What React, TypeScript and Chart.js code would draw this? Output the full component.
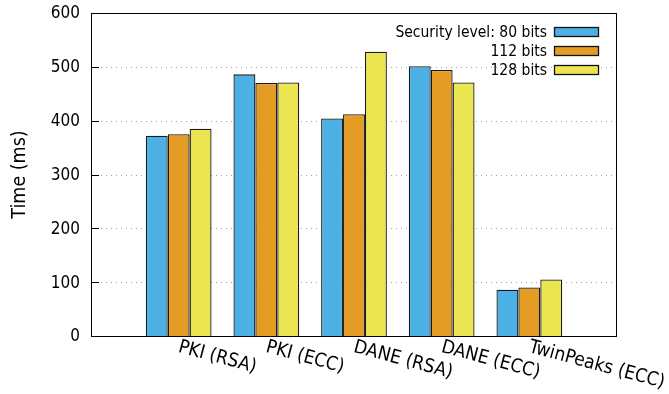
import React, { useEffect, useRef } from "react";
import { Chart, registerables } from "chart.js";

Chart.register(...registerables);

// Categories, padded with an empty slot on each side so the groups sit at 0..4 on a -1..5 range
const categories = ["", "PKI (RSA)", "PKI (ECC)", "DANE (RSA)", "DANE (ECC)", "TwinPeaks (ECC)", ""];
const seriesLabels = ["Security level: 80 bits", "112 bits", "128 bits"];
const bits80 = [null, 372, 486, 404, 501, 86, null];
const bits112 = [null, 375, 470, 412, 494, 90, null];
const bits128 = [null, 385, 471, 528, 471, 105, null];
const seriesColors = ["#4cb0e4", "#e49c24", "#ece552"];
const yTicks = [0, 100, 200, 300, 400, 500, 600];
const yTitle = "Time (ms)";

const FONT = "'DejaVu Sans Condensed', 'DejaVu Sans', sans-serif";

// Dotted gridlines plus short inward ticks on the left axis, drawn under the bars
const gridPlugin = {
  id: "dottedGrid",
  beforeDatasetsDraw(chart: any) {
    const { ctx, chartArea, scales } = chart;
    const y = scales.y;
    ctx.save();
    yTicks.forEach((v) => {
      const py = Math.round(y.getPixelForValue(v)) + 0.5;
      if (v > 0 && v < 600) {
        ctx.strokeStyle = "#a0a0a0";
        ctx.lineWidth = 1;
        ctx.setLineDash([1, 4]);
        ctx.beginPath();
        ctx.moveTo(chartArea.left + 10, py);
        ctx.lineTo(chartArea.right - 4, py);
        ctx.stroke();
      }
      ctx.setLineDash([]);
      ctx.strokeStyle = "#000";
      ctx.beginPath();
      ctx.moveTo(chartArea.left, py);
      ctx.lineTo(chartArea.left + 8, py);
      ctx.stroke();
    });
    ctx.restore();
  },
  afterDatasetsDraw(chart: any) {
    const { ctx, chartArea, scales } = chart;
    const y = scales.y;
    ctx.save();
    ctx.strokeStyle = "#000";
    ctx.lineWidth = 1;
    ctx.strokeRect(
      Math.round(chartArea.left) + 0.5,
      Math.round(chartArea.top) + 0.5,
      Math.round(chartArea.right - chartArea.left) - 1,
      Math.round(chartArea.bottom - chartArea.top)
    );
    // y tick labels, right-aligned against the axis
    ctx.fillStyle = "#000";
    ctx.font = `17px ${FONT}`;
    ctx.textAlign = "right";
    ctx.textBaseline = "middle";
    yTicks.forEach((v) => {
      ctx.fillText(String(v), chartArea.left - 11, y.getPixelForValue(v) + 1);
    });
    // y axis title
    ctx.save();
    ctx.font = `19.5px ${FONT}`;
    ctx.textAlign = "center";
    ctx.translate(20, (chartArea.top + chartArea.bottom) / 2);
    ctx.rotate(-Math.PI / 2);
    ctx.fillText(yTitle, 0, 0);
    ctx.restore();
    ctx.restore();
  },
};

// Slanted category labels, starting at each group's centre and running down to the right
const xLabelPlugin = {
  id: "slantedLabels",
  afterDraw(chart: any) {
    const { ctx, scales, chartArea } = chart;
    const x = scales.x;
    ctx.save();
    ctx.fillStyle = "#000";
    ctx.font = `19px ${FONT}`;
    ctx.textAlign = "left";
    ctx.textBaseline = "middle";
    categories.forEach((label, i) => {
      if (!label) return;
      const px = x.getPixelForValue(i);
      ctx.save();
      ctx.translate(px, chartArea.bottom + 11);
      ctx.rotate((15 * Math.PI) / 180);
      ctx.fillText(label, 0, 0);
      ctx.restore();
    });
    ctx.restore();
  },
};

// Legend in the top right: right-aligned text followed by a swatch
const legendPlugin = {
  id: "keyBox",
  afterDraw(chart: any) {
    const { ctx, chartArea } = chart;
    ctx.save();
    ctx.font = `15.5px ${FONT}`;
    ctx.textAlign = "right";
    ctx.textBaseline = "middle";
    chart.data.datasets.forEach((ds: any, i: number) => {
      const cy = chartArea.top + 19 + i * 19;
      const boxRight = chartArea.right - 18;
      const boxLeft = boxRight - 45;
      ctx.fillStyle = ds.backgroundColor;
      ctx.fillRect(boxLeft, cy - 4.5, 45, 9);
      ctx.strokeStyle = "#111";
      ctx.lineWidth = 1.3;
      ctx.strokeRect(boxLeft + 0.5, cy - 4.5, 44, 9);
      ctx.fillStyle = "#000";
      ctx.fillText(ds.label, boxLeft - 7, cy + 1);
    });
    ctx.restore();
  },
};

export default function App() {
  const canvasRef = useRef<HTMLCanvasElement | null>(null);

  useEffect(() => {
    if (!canvasRef.current) return;
    const series = [bits80, bits112, bits128];
    const chart = new Chart(canvasRef.current, {
      type: "bar",
      data: {
        labels: categories,
        datasets: series.map((values, i) => ({
          label: seriesLabels[i],
          data: values,
          backgroundColor: seriesColors[i],
          borderColor: "#1a1a1a",
          borderWidth: 1.3,
          categoryPercentage: 0.75,
          barPercentage: 1,
        })),
      },
      options: {
        animation: false,
        responsive: false,
        maintainAspectRatio: false,
        layout: { padding: { left: 0, top: 13, right: 52, bottom: 58 } },
        plugins: { legend: { display: false }, tooltip: { enabled: false } },
        scales: {
          x: {
            type: "category",
            offset: false,
            grid: { display: false, drawTicks: false },
            border: { display: false },
            ticks: { display: false },
          },
          y: {
            min: 0,
            max: 600,
            afterFit: (scale: any) => {
              scale.width = 91;
            },
            grid: { display: false, drawTicks: false },
            border: { display: false },
            ticks: { display: false, stepSize: 100 },
          },
        },
      },
      plugins: [gridPlugin, xLabelPlugin, legendPlugin],
    });
    return () => chart.destroy();
  }, []);

  return (
    <div style={{ position: "fixed", left: 0, top: 0, width: 669, height: 394, background: "#fff" }}>
      <canvas ref={canvasRef} width={669} height={394} style={{ width: 669, height: 394 }} />
    </div>
  );
}
